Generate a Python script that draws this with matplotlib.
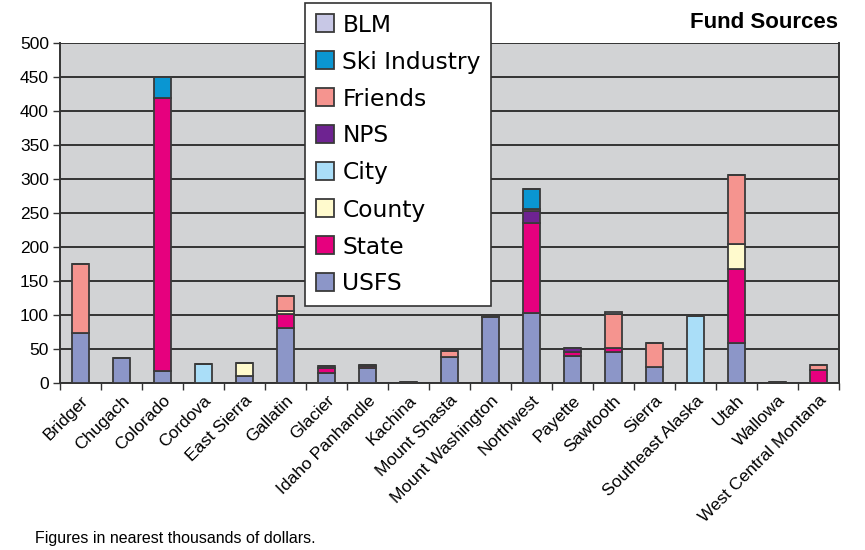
import matplotlib
matplotlib.use("Agg")
import matplotlib.pyplot as plt
import numpy as np

plt.rcParams['font.family'] = ['Liberation Sans', 'DejaVu Sans']

categories = ["Bridger", "Chugach", "Colorado", "Cordova", "East Sierra", "Gallatin",
              "Glacier", "Idaho Panhandle", "Kachina", "Mount Shasta", "Mount Washington",
              "Northwest", "Payette", "Sawtooth", "Sierra", "Southeast Alaska", "Utah",
              "Wallowa", "West Central Montana"]

usfs    = [74, 37, 17, 0, 11, 81, 15, 22, 0, 38, 97, 103, 40, 46, 23, 0, 59, 0, 0]
state   = [0, 0, 402, 0, 0, 21, 7, 3, 0, 0, 0, 133, 5, 5, 0, 0, 108, 0, 19]
county  = [0, 0, 0, 0, 18, 4, 0, 0, 0, 0, 0, 0, 0, 0, 0, 0, 38, 0, 0]
city    = [0, 0, 0, 28, 0, 0, 0, 0, 0, 0, 0, 0, 0, 0, 0, 98, 0, 0, 0]
nps     = [0, 0, 0, 0, 0, 0, 3, 2, 2, 0, 2, 17, 7, 0, 0, 0, 0, 2, 0]
friends = [101, 0, 0, 0, 0, 22, 0, 0, 0, 9, 0, 3, 0, 50, 36, 0, 101, 0, 8]
ski     = [0, 0, 31, 0, 0, 0, 0, 0, 0, 0, 0, 29, 0, 0, 0, 0, 0, 0, 0]
blm     = [0, 0, 0, 0, 0, 0, 0, 0, 0, 0, 0, 0, 0, 4, 0, 0, 0, 0, 0]

series = [("USFS", usfs, "#8c96c8"), ("State", state, "#e6007e"),
          ("County", county, "#fffacd"), ("City", city, "#aadef8"),
          ("NPS", nps, "#6e2391"), ("Friends", friends, "#f5948f"),
          ("Ski Industry", ski, "#0a96d2"), ("BLM", blm, "#c8c8e6")]

fig = plt.figure(figsize=(8.65, 5.5), dpi=100)
ax = fig.add_axes([60/865, 1-383/550, 779/865, 340/550])
ax.set_facecolor("#d2d3d5")

x = np.arange(len(categories))
bottom = np.zeros(len(categories))
handles = {}
for name, vals, col in series:
    v = np.array(vals, dtype=float)
    h = ax.bar(x, v, bottom=bottom, width=0.42, color=col, edgecolor="#3a3a3a",
               linewidth=1.3, zorder=3, label=name)
    handles[name] = h
    bottom += v

ax.set_xlim(-0.5, len(categories) - 0.5)
ax.set_ylim(0, 500)
ax.set_yticks(np.arange(0, 501, 50))
ax.tick_params(axis='y', labelsize=12.5, length=5, width=1, color="#333333", pad=3)
ax.yaxis.grid(True, color="#333333", linewidth=1.4, zorder=1)
ax.set_axisbelow(True)

ax.set_xticks(x)
ax.set_xticklabels(categories, rotation=45, ha='right', rotation_mode='anchor', fontsize=12.5)
ax.tick_params(axis='x', length=0, pad=7)
ax.set_xticks(np.arange(-0.5, len(categories)), minor=True)
ax.tick_params(axis='x', which='minor', length=5, width=1, color="#333333")

for s in ["left", "bottom", "right"]:
    ax.spines[s].set_color("#333333")
    ax.spines[s].set_linewidth(1.4)
ax.spines["top"].set_visible(False)

order = ["BLM", "Ski Industry", "Friends", "NPS", "City", "County", "State", "USFS"]
leg = fig.legend([handles[n] for n in order], order, loc='upper left',
                 bbox_to_anchor=(305/865, 1-3/550),
                 prop={'family': 'DejaVu Sans', 'size': 16.8}, frameon=True,
                 fancybox=False, edgecolor="#333333", framealpha=1,
                 borderaxespad=0, labelspacing=0.6, handlelength=0.8,
                 handleheight=0.8, handletextpad=0.35, borderpad=0.45)
leg.get_frame().set_linewidth(1.2)

fig.text(838/865, 1-22/550, "Fund Sources", ha='right', va='center',
         fontsize=16, fontweight='bold')
fig.text(35/865, 1-538/550, "Figures in nearest thousands of dollars.", ha='left',
         va='center', fontsize=11.5)

fig.savefig("out.png", dpi=100)
